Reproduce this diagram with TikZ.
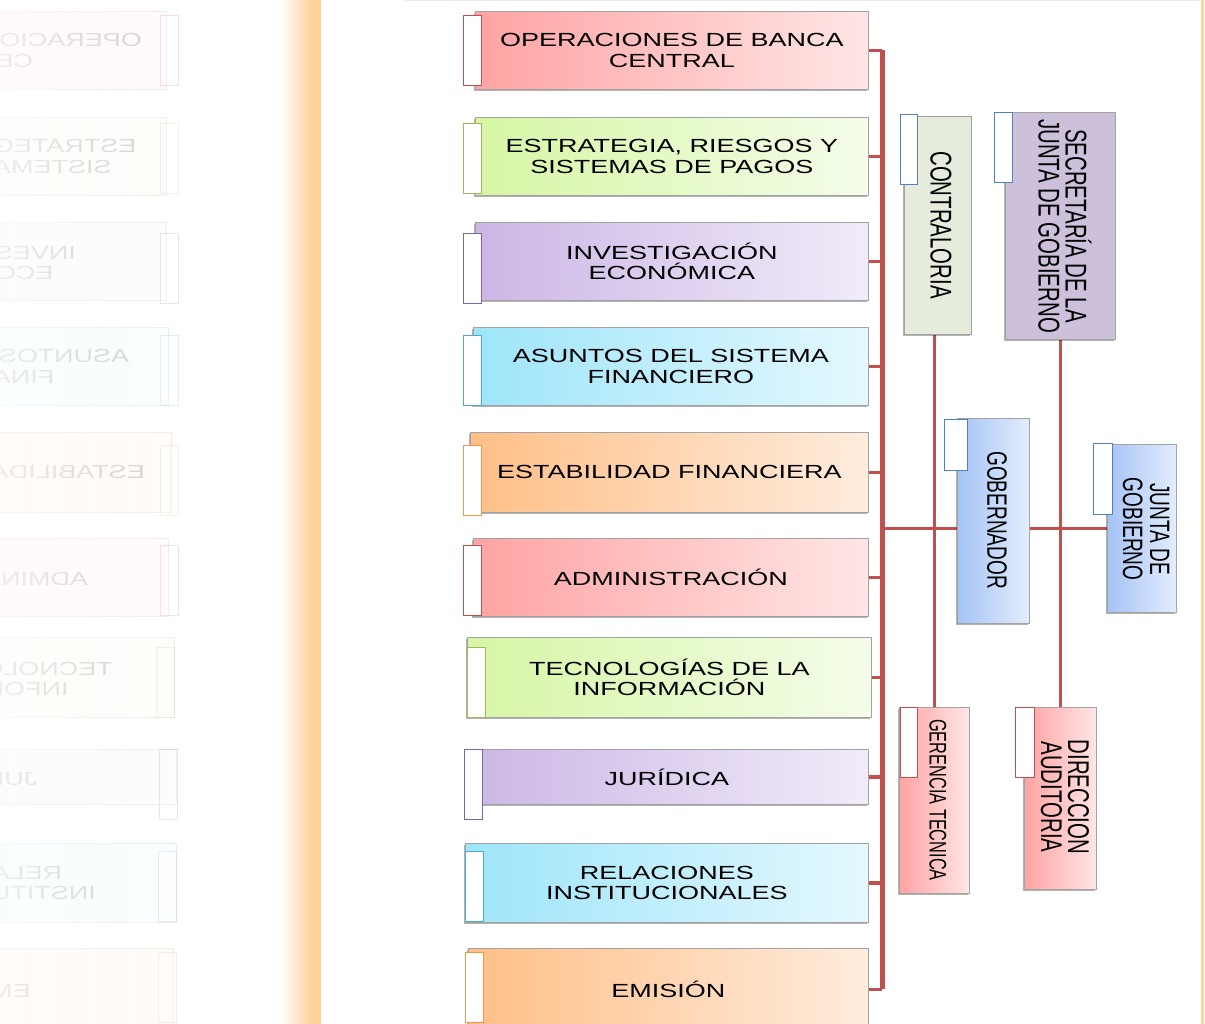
\documentclass[tikz,border=0pt]{standalone}
\usepackage{fontspec}
\setmainfont{Liberation Sans}
\newfontfamily\widesans[FakeStretch=1.42]{Liberation Sans}
\newfontfamily\narrowsans[FakeStretch=0.68]{Liberation Sans}
\usetikzlibrary{shadows,fadings,backgrounds}

% department colours: L = saturated side, R = pale side, D = tab border
\definecolor{redL}{HTML}{FFA3A3}\definecolor{redR}{HTML}{FFE6E6}\definecolor{redD}{HTML}{C0504D}
\definecolor{greenL}{HTML}{D7F6A4}\definecolor{greenR}{HTML}{F4FDEA}\definecolor{greenD}{HTML}{9BBB59}
\definecolor{purpleL}{HTML}{CBB6E5}\definecolor{purpleR}{HTML}{F1EBF9}\definecolor{purpleD}{HTML}{8064A2}
\definecolor{cyanL}{HTML}{9EE5FA}\definecolor{cyanR}{HTML}{E4F8FE}\definecolor{cyanD}{HTML}{4BACC6}
\definecolor{orangeL}{HTML}{FFBF87}\definecolor{orangeR}{HTML}{FFECDD}\definecolor{orangeD}{HTML}{F79646}
\definecolor{blueL}{HTML}{A5C3F5}\definecolor{blueR}{HTML}{E3EDFD}\definecolor{blueD}{HTML}{4F81BD}
\definecolor{conF}{HTML}{E6ECDC}
\definecolor{secF}{HTML}{CCC0DA}
\definecolor{boxgray}{HTML}{A3A3A3}
\definecolor{linkC}{HTML}{C0504D}
\definecolor{barC}{HTML}{FFD49C}

\tikzfading[name=fadetoleft, left color=transparent!30, right color=transparent!100]

\tikzset{
  boxshadow/.style={drop shadow={shadow xshift=-1.5pt, shadow yshift=-1.5pt, opacity=.3, fill=black}},
  deptbox/.style={draw=boxgray, line width=0.8pt, inner sep=0pt, align=center,
    font=\widesans\fontsize{19}{20.5}\selectfont, text=black, boxshadow},
  tabbox/.style={fill=white, line width=1.3pt, minimum width=18, minimum height=70,
    inner sep=0pt, anchor=north west},
  vbox/.style={draw=boxgray, line width=0.8pt, inner sep=0pt, anchor=north west, boxshadow},
  vtext/.style={rotate=-90, align=center, inner sep=0pt, text=black,
    font=\narrowsans\fontsize{30}{27}\selectfont},
  link/.style={draw=linkC, line width=3.8pt},
}

% one department: name, colour, left, top, right, bottom, tab corner, text
\newcommand\dept[8]{%
  \node[deptbox, left color=#2L, right color=#2R, minimum width={#5-#3},
        minimum height={#6-#4}, anchor=north west] (#1) at (#3,#4) {#8};
  \node[tabbox, draw=#2D] (#1-tab) at (#7) {};
}

% the column of departments
\newcommand\deptcolumn[1]{%
  \dept{#1b1}{red}{475}{11}{868}{89}{463,15}{OPERACIONES DE BANCA\\CENTRAL}
  \dept{#1b2}{green}{475}{117}{868}{195}{463,123}{ESTRATEGIA, RIESGOS Y\\SISTEMAS DE PAGOS}
  \dept{#1b3}{purple}{475}{222}{868}{300}{463,233}{INVESTIGACIÓN\\ECONÓMICA}
  \dept{#1b4}{cyan}{473}{327}{868}{405}{463,335}{ASUNTOS DEL SISTEMA\\FINANCIERO}
  \dept{#1b5}{orange}{470}{432}{868}{512}{463,445}{ESTABILIDAD FINANCIERA}
  \dept{#1b6}{red}{473}{538}{868}{616}{463,545}{ADMINISTRACIÓN}
  \dept{#1b7}{green}{467}{637}{871}{717}{467,647}{TECNOLOGÍAS DE LA\\INFORMACIÓN}
  \dept{#1b8}{purple}{465}{749}{868}{804}{464,749}{JURÍDICA}
  \dept{#1b9}{cyan}{465}{843}{868}{922}{465,851}{RELACIONES\\INSTITUCIONALES}
  \dept{#1b10}{orange}{468}{948}{868}{1030}{465,952}{EMISIÓN}
}

\begin{document}
\begin{tikzpicture}[x=1pt,y=-1pt]
\useasboundingbox (0,0) rectangle (1205,1024);

% mirrored, faded copy of the department column
\begin{scope}
  \clip (0,0) rectangle (300,1024);
  \begin{scope}[xshift=642pt, xscale=-1, transform shape, opacity=.22, boxshadow/.style={}]
    \deptcolumn{m}
  \end{scope}
  \fill[white, path fading=fadetoleft] (0,0) rectangle (260,1024);
\end{scope}

% orange side bands and top rule
\shade[left color=white, right color=barC] (281,0) rectangle (310,1024);
\fill[barC] (309.5,0) rectangle (321,1024);
\fill[barC] (1201,0) rectangle (1204,1024);
\draw[black!8, line width=1pt] (405,0.5) -- (1200,0.5);

% departments
\deptcolumn{}

% executive boxes
\node[vbox, fill=conF, minimum width=67, minimum height=218] (con) at (904,116) {};
\node[tabbox, draw=blueD, minimum width=17] (con-tab) at (900,114) {};
\node[vtext] (con-t) at (941,225) {CONTRALORIA};

\node[vbox, fill=secF, minimum width=110, minimum height=227] (sec) at (1005,112) {};
\node[tabbox, draw=blueD] (sec-tab) at (994,112) {};
\node[vtext] (sec-t) at (1065,226) {SECRETARÍA DE LA\\JUNTA DE GOBIERNO};

\node[vbox, left color=blueL, right color=blueR, minimum width=72, minimum height=205] (gob) at (957,418) {};
\node[tabbox, draw=blueD, minimum width=23, minimum height=51] (gob-tab) at (944,419) {};
\node[vtext, font=\narrowsans\fontsize{28}{27}\selectfont] (gob-t) at (997,520) {GOBERNADOR};

\node[vbox, left color=blueL, right color=blueR, minimum width=69, minimum height=168] (jg) at (1107,444) {};
\node[tabbox, draw=blueD, minimum width=19, minimum height=71] (jg-tab) at (1093,443) {};
\node[vtext, font=\narrowsans\fontsize{28}{27}\selectfont] (jg-t) at (1146,529) {JUNTA DE\\GOBIERNO};

\node[vbox, left color=redL, right color=redR, minimum width=70, minimum height=186] (ger) at (899,707) {};
\node[tabbox, draw=redD, minimum width=17] (ger-tab) at (900,707) {};
\node[vtext, font=\narrowsans\fontsize{24}{24}\selectfont] (ger-t) at (938,800) {GERENCIA TECNICA};

\node[vbox, left color=redL, right color=redR, minimum width=72, minimum height=182] (dir) at (1024,707) {};
\node[tabbox, draw=redD, minimum width=19] (dir-tab) at (1015,707) {};
\node[vtext] (dir-t) at (1065,797) {DIRECCION\\AUDITORIA};

% connectors, kept behind the boxes
\begin{scope}[on background layer]
  \coordinate (trunk) at (882,527);
  \draw[link, line width=5pt] (b1.east -| trunk) -- (b10.east -| trunk);
  \foreach \k in {1,...,10} \draw[link, line width=3.2pt] (b\k.east) -- (b\k.east -| trunk);
  \draw[link] (jg.west) -- (jg.west -| trunk);
  \draw[link] (ger.north) -- (ger.north |- con.south);
  \draw[link] (dir.north) -- (dir.north |- sec.south);
\end{scope}
\end{tikzpicture}
\end{document}
